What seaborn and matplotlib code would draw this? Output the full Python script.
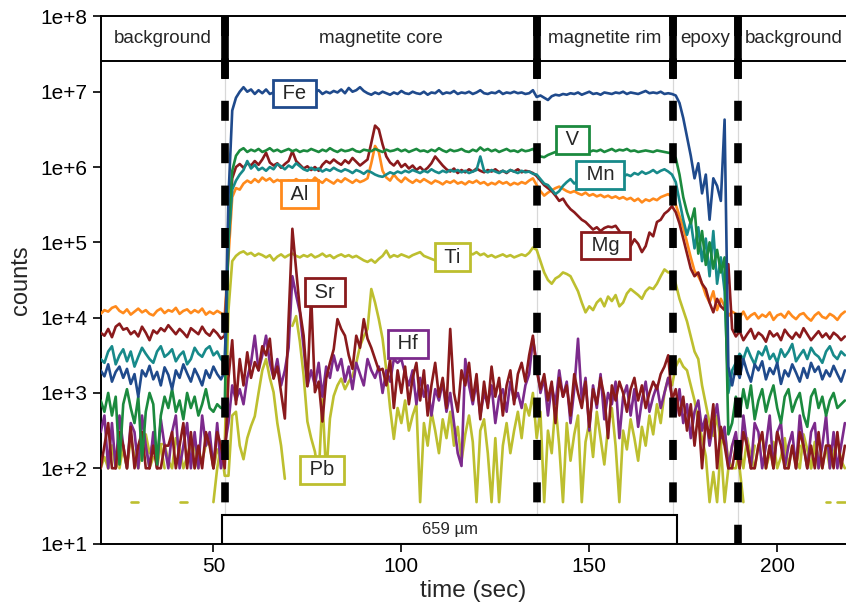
import numpy as np
import pandas as pd
import matplotlib
matplotlib.use("Agg")
import matplotlib.pyplot as plt
import matplotlib.patches as mpatches
from matplotlib.ticker import FixedLocator, NullLocator
import seaborn as sns

nan = np.nan

# ---------------- data (log10 of counts), 1 s sweeps from t = 20 s to t = 218 s ----------------
time_sec = np.arange(20, 219)

fe_log10 = [
    # background 1 (t 20-53)
    3.30, 3.22, 3.38, 3.15, 3.28, 3.35, 3.20, 3.32, 3.12, 3.25, 2.95, 3.30, 3.22, 3.36, 3.18, 3.28, 3.10,
    3.34, 3.24, 3.05, 3.30, 3.20, 3.38, 3.26, 3.15, 3.32, 3.22, 3.10, 3.30, 3.20, 3.35, 3.25, 3.18, 3.28,
    # magnetite core (t 54-135)
    5.60, 6.75, 6.92, 7.00, 7.06, 7.00, 7.03, 6.97, 7.02, 6.98,
    7.03, 6.97, 6.99, 6.96, 6.99, 6.97, 7.00, 6.98, 6.99, 6.97,
    6.98, 6.96, 7.00, 6.99, 7.02, 6.97, 7.00, 6.98, 7.01, 6.99,
    7.03, 6.98, 7.05, 7.00, 7.02, 7.06, 7.01, 6.98, 6.96, 6.99,
    6.97, 7.00, 6.98, 6.96, 6.99, 6.97, 7.01, 6.98, 6.97, 7.00,
    6.98, 6.97, 7.00, 6.96, 6.99, 6.98, 7.02, 6.97, 6.99, 6.98,
    7.01, 6.97, 6.99, 6.98, 7.00, 6.97, 6.99, 7.02, 6.98, 6.97,
    6.99, 6.98, 7.01, 6.97, 6.99, 6.98, 7.00, 6.98, 6.99, 6.97,
    6.98, 7.02,
    # magnetite rim (t 136-171)
    6.93, 6.95, 6.92, 6.89, 6.94, 6.96, 6.95, 6.97, 6.96, 6.98,
    6.97, 6.99, 6.96, 6.98, 7.00, 6.97, 6.98, 6.96, 6.99, 6.98,
    6.97, 6.99, 6.98, 7.00, 6.97, 6.99, 6.98, 6.97, 6.99, 7.01,
    6.98, 6.99, 6.98, 7.00, 6.97, 6.98,
    # epoxy (t 172-188)
    6.97, 6.95, 6.85, 6.65, 6.40, 6.15, 5.85, 6.05, 5.65, 5.90, 5.30, 5.85, 5.75, 5.55, 6.63, 3.35, 3.10,
    # background 2 (t 189-218)
    3.35, 3.20, 3.45, 3.28, 3.15, 3.38, 3.30, 3.42, 3.18, 3.33, 3.25, 3.40, 3.12, 3.30, 3.22,
    3.38, 3.27, 3.15, 3.33, 3.20, 3.40, 3.28, 3.35, 3.18, 3.30, 3.22, 3.36, 3.25, 3.15, 3.30,
]

v_log10 = [
    2.90, 2.75, 3.00, 2.70, 2.95, 2.05, 2.85, 3.05, 2.80, 2.60, 2.95, 2.10, 2.75, 3.00, 2.85, 2.05, 2.70,
    2.95, 2.80, 3.05, 2.75, 2.90, 2.65, 3.00, 2.80, 2.95, 2.70, 2.85, 3.05, 2.80, 2.75, 2.85, 2.80, 2.80,
    5.20, 5.95, 6.15, 6.22, 6.25, 6.20, 6.23, 6.21, 6.24, 6.20,
    6.22, 6.25, 6.21, 6.23, 6.20, 6.22, 6.24, 6.21, 6.23, 6.20,
    6.22, 6.21, 6.24, 6.22, 6.20, 6.23, 6.21, 6.25, 6.22, 6.20,
    6.23, 6.21, 6.22, 6.24, 6.21, 6.20, 6.23, 6.22, 6.21, 6.24,
    6.22, 6.20, 6.23, 6.21, 6.22, 6.24, 6.21, 6.23, 6.20, 6.22,
    6.24, 6.21, 6.22, 6.20, 6.23, 6.21, 6.25, 6.22, 6.20, 6.23,
    6.21, 6.22, 6.24, 6.21, 6.20, 6.23, 6.21, 6.26, 6.22, 6.24,
    6.21, 6.23, 6.20, 6.22, 6.24, 6.21, 6.22, 6.20, 6.23, 6.21,
    6.22, 6.24,
    6.18, 6.14, 6.13, 6.16, 6.18, 6.20, 6.19, 6.21, 6.20, 6.22,
    6.21, 6.20, 6.22, 6.21, 6.20, 6.22, 6.21, 6.23, 6.20, 6.22,
    6.24, 6.21, 6.23, 6.22, 6.24, 6.21, 6.22, 6.20, 6.21, 6.22,
    6.21, 6.20, 6.22, 6.21, 6.20, 6.19,
    6.18, 6.12, 5.90, 5.60, 5.40, 5.25, 5.45, 4.85, 5.15, 4.70, 5.00, 4.65, 4.90, 4.60, 4.80, 2.45, 2.60,
    2.95, 2.70, 3.05, 2.80, 3.10, 2.65, 2.90, 3.05, 2.75, 2.95, 3.10, 2.80, 2.60, 2.95, 3.05,
    2.75, 2.90, 3.00, 2.70, 2.55, 2.95, 3.05, 2.80, 2.95, 2.70, 2.90, 3.00, 2.80, 2.85, 2.90,
]

mn_log10 = [
    3.45, 3.40, 3.55, 3.62, 3.38, 3.50, 3.58, 3.42, 3.55, 3.35, 3.48, 3.60, 3.52, 3.45, 3.40, 3.55, 3.62,
    3.48, 3.52, 3.58, 3.42, 3.50, 3.55, 3.38, 3.45, 3.60, 3.52, 3.48, 3.58, 3.62, 3.50, 3.55, 3.45, 3.40,
    5.00, 5.70, 5.82, 5.90, 5.96, 6.08, 5.98, 6.03, 5.96, 5.99,
    5.95, 6.00, 5.97, 6.04, 6.01, 5.97, 6.02, 5.99, 6.05, 6.01,
    5.97, 5.95, 5.99, 5.96, 5.98, 5.94, 5.97, 5.95, 5.99, 5.96,
    5.94, 5.97, 5.95, 5.92, 5.96, 5.94, 5.91, 5.95, 5.93, 5.90,
    5.88, 5.87, 5.90, 5.93, 5.91, 5.94, 5.92, 5.95, 5.93, 5.96,
    5.94, 5.92, 5.95, 5.93, 5.97, 5.94, 5.92, 5.95, 5.93, 5.96,
    5.94, 5.96, 5.93, 5.95, 5.92, 5.94, 5.96, 6.14, 5.95, 5.93,
    5.96, 5.94, 5.92, 5.95, 5.93, 5.96, 5.94, 5.92, 5.95, 5.93,
    5.94, 5.91,
    5.90, 5.84, 5.78, 5.76, 5.70, 5.64, 5.68, 5.75, 5.80, 5.84,
    5.78, 5.82, 5.80, 5.84, 5.81, 5.86, 5.83, 5.85, 5.82, 5.86,
    5.84, 5.88, 5.85, 5.87, 5.90, 5.88, 5.92, 5.90, 5.94, 5.91,
    5.93, 5.96, 5.92, 5.95, 5.97, 5.94,
    5.90, 5.80, 5.55, 5.30, 5.10, 5.28, 4.92, 5.20, 4.75, 5.05, 4.55, 5.15, 4.45, 4.80, 4.35, 3.00, 3.30,
    3.40, 3.52, 3.45, 3.60, 3.48, 3.38, 3.55, 3.50, 3.62, 3.45, 3.52, 3.40, 3.58, 3.48, 3.55,
    3.65, 3.42, 3.50, 3.57, 3.45, 3.60, 3.52, 3.48, 3.40, 3.55, 3.62, 3.50, 3.45, 3.55, 3.50,
]

al_log10 = [
    4.05, 4.10, 4.08, 4.13, 4.15, 4.09, 4.06, 4.11, 4.04, 4.08, 4.12, 4.07, 4.10, 4.05, 4.03, 4.09, 4.12,
    4.06, 4.10, 4.08, 4.13, 4.05, 4.09, 4.11, 4.06, 4.10, 4.07, 4.12, 4.04, 4.08, 4.05, 4.09, 4.06, 4.03,
    4.80, 5.60, 5.72, 5.70, 5.78, 5.82, 5.79, 5.84, 5.80, 5.86,
    5.82, 5.85, 5.80, 5.83, 5.81, 5.78, 5.82, 5.80, 5.84, 5.81,
    5.79, 5.83, 5.80, 5.86, 5.82, 5.79, 5.84, 5.81, 5.78, 5.83,
    5.80, 5.85, 5.82, 5.79, 5.83, 5.80, 5.82, 5.85, 6.05, 6.28,
    6.20, 5.95, 5.86, 5.82, 5.90, 5.84, 5.80, 5.86, 5.82, 5.79,
    5.83, 5.80, 5.84, 5.81, 5.78, 5.82, 5.80, 5.77, 5.81, 5.79,
    5.82, 5.78, 5.80, 5.77, 5.81, 5.79, 5.82, 5.78, 5.80, 5.76,
    5.79, 5.77, 5.81, 5.78, 5.80, 5.76, 5.79, 5.77, 5.80, 5.78,
    5.82, 5.85,
    5.76, 5.68, 5.62, 5.66, 5.69, 5.72, 5.74, 5.71, 5.68, 5.66,
    5.68, 5.65, 5.63, 5.66, 5.62, 5.64, 5.61, 5.63, 5.60, 5.62,
    5.59, 5.61, 5.58, 5.60, 5.57, 5.59, 5.55, 5.58, 5.53, 5.57,
    5.55, 5.58, 5.56, 5.60, 5.62, 5.64,
    5.60, 5.50, 5.35, 5.20, 5.00, 4.80, 4.62, 4.55, 4.45, 4.30, 4.20, 4.35, 4.10, 4.25, 4.15, 4.02, 4.08,
    4.05, 4.00, 4.08, 3.98, 4.03, 4.06, 3.99, 4.04, 4.01, 4.07, 3.97, 4.03, 4.05, 4.00, 4.08,
    4.02, 3.98, 4.04, 4.06, 4.00, 3.96, 4.03, 4.07, 4.01, 3.99, 4.05, 4.02, 3.97, 4.04, 4.08,
]

mg_log10 = [
    3.80, 3.76, 3.85, 3.74, 3.88, 3.92, 3.84, 3.86, 3.78, 3.82, 3.75, 3.88, 3.80, 3.70, 3.83, 3.79, 3.86,
    3.82, 3.90, 3.84, 3.78, 3.85, 3.80, 3.74, 3.86, 3.82, 3.78, 3.88, 3.80, 3.76, 3.84, 3.79, 3.72, 3.76,
    5.00, 5.85, 6.00, 6.04, 5.99, 6.05, 6.02, 6.08, 6.03, 6.10,
    6.19, 6.06, 6.02, 6.05, 5.99, 6.04, 6.08, 6.21, 6.08, 6.03,
    5.98, 6.01, 5.96, 6.00, 5.95, 6.03, 6.08, 6.05, 6.10, 6.06,
    6.03, 6.09, 6.05, 6.12, 6.07, 6.02, 6.06, 6.10, 6.32, 6.55,
    6.50, 6.30, 6.14, 6.06, 6.02, 6.08, 6.00, 6.04, 5.98, 6.02,
    5.96, 6.00, 5.95, 5.99, 6.05, 6.14, 6.08, 6.02, 5.97, 5.94,
    5.98, 5.92, 5.96, 5.93, 5.97, 5.94, 5.98, 5.95, 5.93, 5.96,
    5.94, 5.97, 5.93, 5.95, 5.92, 5.96, 5.94, 5.97, 5.93, 5.95,
    5.94, 5.92,
    5.88, 5.82, 5.76, 5.72, 5.68, 5.62, 5.55, 5.58, 5.50, 5.44,
    5.40, 5.35, 5.30, 5.27, 5.22, 5.17, 5.20, 5.15, 5.19, 5.21,
    5.20, 5.22, 5.15, 5.05, 5.00, 4.95, 5.04, 4.98, 4.87, 4.95,
    5.13, 5.08, 5.27, 5.30, 5.38, 5.42,
    5.48, 5.40, 5.25, 5.05, 4.85, 4.65, 4.55, 4.60, 4.45, 4.38, 4.20, 4.07, 4.25, 4.15, 4.10, 4.71, 3.85,
    3.75, 3.82, 3.70, 3.78, 3.85, 3.72, 3.80, 3.76, 3.68, 3.82, 3.75, 3.79, 3.70, 3.84, 3.77,
    3.72, 3.80, 3.74, 3.86, 3.78, 3.70, 3.76, 3.82, 3.74, 3.79, 3.72, 3.80, 3.76, 3.70, 3.75,
]

ti_log10 = [
    2.00, 2.15, 2.00, 2.30, 2.00, 2.10, 2.25, 2.00, 2.40, 2.15, 2.00, 2.30, 2.45, 2.20, 2.35, 2.00, 2.32,
    2.32, 2.10, 2.00, 2.40, 2.25, 2.00, 2.15, 2.35, 2.00, 2.20, 2.10, 2.32, 2.32, 2.00, 2.25, 2.15, 2.30,
    4.10, 4.75, 4.82, 4.86, 4.88, 4.84, 4.86, 4.82, 4.85, 4.83,
    4.80, 4.83, 4.76, 4.81, 4.84, 4.80, 4.83, 4.85, 4.82, 4.80,
    4.83, 4.81, 4.84, 4.80, 4.82, 4.85, 4.81, 4.83, 4.79, 4.82,
    4.84, 4.81, 4.83, 4.80, 4.82, 4.79, 4.76, 4.74, 4.77, 4.73,
    4.78, 4.82, 4.89, 4.80, 4.83, 4.81, 4.84, 4.82, 4.80, 4.83,
    4.85, 4.87, 4.82, 4.80, 4.78, 4.76, 4.78, 4.77, 4.78, 4.79,
    4.81, 4.79, 4.84, 4.82, 4.86, 4.84, 4.87, 4.83, 4.85, 4.81,
    4.83, 4.80, 4.82, 4.84, 4.81, 4.83, 4.80, 4.82, 4.84, 4.82,
    4.86, 4.93,
    4.90, 4.75, 4.60, 4.50, 4.45, 4.52, 4.55, 4.60, 4.58, 4.55,
    4.45, 4.35, 4.20, 4.07, 4.15, 4.10, 4.20, 4.25, 4.15, 4.28,
    4.22, 4.30, 4.15, 4.20, 4.32, 4.38, 4.34, 4.30, 4.25, 4.35,
    4.40, 4.38, 4.45, 4.55, 4.64, 4.60,
    4.60, 4.45, 4.25, 4.10, 3.95, 3.75, 3.55, 3.45, 3.10, 2.85, 2.60, 2.43, 2.70, 2.30, 2.50, 2.10, 2.00,
    2.00, 2.25, 2.00, 2.40, 2.15, 2.00, 2.30, 2.45, 2.00, 2.20, 2.35, 2.00, 2.15, 2.40, 2.00,
    2.30, 2.10, 2.00, 2.45, 2.25, 2.00, 2.35, 2.15, 2.00, 2.30, 2.00, 2.20, 2.40, 2.10, 2.00,
]

sr_log10 = [
    2.00, 2.30, 2.60, 2.00, 2.00, 2.48, 2.30, 2.00, 2.55, 2.00, 2.30, 2.48, 2.00, 2.00, 2.30, 2.00, 2.00,
    2.30, 2.30, 2.48, 2.00, 2.30, 2.60, 2.00, 2.48, 2.00, 2.30, 2.00, 2.48, 2.30, 2.00, 2.48, 2.30, 2.00,
    3.20, 3.70, 2.85, 3.45, 3.10, 3.54, 3.20, 3.41, 3.30, 3.62,
    3.50, 3.72, 3.19, 3.35, 3.01, 2.66, 3.98, 5.18, 4.64, 4.10,
    3.76, 3.09, 4.30, 3.01, 3.15, 2.62, 3.19, 3.40, 3.58, 3.98,
    3.85, 3.76, 3.50, 3.32, 3.76, 3.60, 3.98, 3.72, 3.60, 3.45,
    3.30, 3.32, 3.10, 3.45, 2.80, 3.30, 3.00, 3.35, 2.85, 3.20,
    3.40, 2.90, 3.30, 2.70, 3.10, 3.40, 2.95, 3.20, 2.80, 3.85,
    3.00, 2.75, 3.30, 3.10, 3.40, 2.90, 3.25, 2.65, 3.15, 2.80,
    3.35, 2.95, 3.20, 2.70, 3.10, 3.30, 2.85, 3.25, 3.40, 3.15,
    3.50, 3.76,
    3.30, 3.05, 3.25, 2.90, 3.15, 2.60, 3.20, 2.95, 3.10, 2.70,
    3.25, 3.00, 2.80, 3.15, 2.55, 3.05, 2.85, 3.20, 2.95, 2.40,
    3.10, 2.90, 3.15, 3.00, 2.75, 3.05, 3.20, 2.90, 3.10, 2.80,
    3.00, 3.15, 3.05, 3.25, 3.35, 3.50,
    2.90, 3.05, 2.70, 2.95, 2.50, 2.85, 2.30, 2.75, 2.00, 2.65, 2.40, 2.85, 2.00, 2.55, 2.30, 2.00, 2.00,
    2.30, 2.00, 2.48, 2.30, 2.00, 2.00, 2.30, 2.48, 2.00, 2.30, 2.00, 2.48, 2.30, 2.00, 2.00,
    2.30, 2.00, 2.48, 2.30, 2.00, 2.30, 2.00, 2.48, 2.00, 2.30, 2.30, 2.00, 2.48, 2.00, 2.30,
]

hf_log10 = [
    2.48, 2.70, 2.00, 2.60, 2.00, 2.70, 2.30, 2.00, 2.60, 2.48, 2.00, 2.70, 2.30, 2.00, 2.48, 2.00, 2.65,
    2.30, 2.00, 2.48, 2.70, 2.00, 2.30, 2.60, 2.00, 2.48, 2.00, 2.70, 2.30, 2.48, 2.00, 2.60, 2.00, 2.30,
    2.60, 3.10, 2.90, 3.05, 2.85, 3.20, 3.40, 3.76, 3.30, 3.50,
    3.76, 3.40, 3.20, 3.45, 3.10, 3.30, 3.60, 4.55, 4.30, 4.07,
    3.60, 3.09, 3.30, 3.10, 3.40, 2.95, 3.35, 3.20, 3.50, 3.30,
    3.45, 3.15, 3.35, 3.05, 3.40, 3.25, 3.10, 3.45, 3.30, 3.20,
    3.35, 3.00, 3.30, 3.15, 3.45, 3.40, 3.45, 3.25, 3.10, 3.30,
    2.85, 3.20, 2.95, 3.10, 2.70, 3.05, 2.90, 3.15, 2.75, 3.00,
    2.60, 2.20, 2.03, 3.45, 3.10, 2.85, 3.15, 2.70, 3.00, 2.85,
    3.10, 2.60, 2.95, 3.05, 2.75, 3.15, 2.90, 3.00, 2.80, 3.10,
    3.25, 3.72,
    3.40, 3.00, 3.20, 2.70, 3.10, 2.85, 3.30, 2.95, 3.15, 2.60,
    3.05, 3.72, 2.90, 3.20, 2.50, 3.10, 2.80, 3.25, 2.65, 3.00,
    2.85, 3.15, 2.40, 2.95, 3.10, 2.70, 3.05, 2.55, 2.90, 3.15,
    2.75, 2.95, 3.10, 2.80, 3.00, 3.20,
    2.95, 2.70, 3.05, 2.60, 2.85, 2.40, 2.75, 2.90, 2.50, 2.70, 2.30, 2.60, 2.85, 2.40, 2.55, 2.00, 2.30,
    2.48, 2.00, 2.70, 2.30, 2.00, 2.60, 2.48, 2.00, 2.30, 2.70, 2.00, 2.48, 2.60, 2.00, 2.30,
    2.48, 2.00, 2.70, 2.30, 2.00, 2.48, 2.60, 2.00, 2.30, 2.70, 2.00, 2.48, 2.00, 2.30, 2.60,
]

pb_log10 = [
    nan, nan, 2.00, 2.30, nan, 2.00, 2.30, nan, 1.55, 1.55, 1.55, nan, 2.30, 2.00, 2.15, nan, 2.30,
    2.00, nan, nan, nan, 1.55, 1.55, 1.55, nan, 2.30, 2.00, nan, 2.00, nan, 1.55, 2.00, 2.30, 1.90,
    1.90, 2.70, 2.75, 2.30, 2.12, 2.40, 2.56, 2.69, 3.00, 3.30,
    3.45, 3.20, 3.01, 2.60, 2.30, 1.86, nan, 3.89, 4.02, 3.68,
    3.23, 2.62, 2.40, 2.22, 1.90, 2.92, 1.90, 2.66, 2.96, 3.10,
    3.19, 3.05, 3.15, 3.23, 3.40, 3.62, 3.75, 3.85, 4.38, 4.20,
    3.98, 3.72, 3.30, 2.80, 2.39, 2.80, 2.60, 2.90, 2.50, 2.70,
    2.85, 1.55, 2.60, 2.30, 2.75, 2.50, 2.20, 2.65, 2.40, 2.75,
    2.30, 2.55, 2.10, 2.45, 2.70, 2.35, 1.55, 2.50, 2.65, 2.20,
    1.55, 2.40, 1.55, 2.30, 2.60, 2.20, 2.50, 2.75, 2.40, 2.85,
    2.70, 3.00,
    2.40, 2.75, 1.55, 2.50, 2.20, 2.85, 2.30, 1.55, 2.60, 2.10,
    2.45, 2.70, 1.55, 2.35, 2.60, 2.15, 2.75, 2.40, 2.05, 2.55,
    2.80, 2.30, 1.55, 2.50, 2.25, 2.65, 2.40, 2.10, 2.55, 2.30,
    2.70, 2.45, 2.85, 2.60, 3.00, 3.20,
    3.10, 3.35, 3.45, 3.35, 3.30, 3.10, 2.90, 2.62, 2.40, 2.16, 1.55, 1.95, 1.55, 2.30, 1.55, 2.00, 2.30,
    2.40, 2.00, 1.55, nan, 2.00, 2.30, nan, nan, 2.00, 2.30, 2.00, nan, nan, 2.30, 2.00,
    nan, 2.00, 2.30, nan, nan, 2.00, 2.30, 2.00, nan, 1.55, 1.55, nan, 1.55, 1.55, 1.55,
]

elements = ["Ti", "Pb", "Hf", "Sr", "Al", "Mg", "Mn", "V", "Fe"]
series_log10 = {"Fe": fe_log10, "V": v_log10, "Mn": mn_log10, "Al": al_log10, "Mg": mg_log10,
                "Ti": ti_log10, "Sr": sr_log10, "Hf": hf_log10, "Pb": pb_log10}
colors = {"Fe": "#1f4a8c", "V": "#1b8a3e", "Mn": "#178a8a", "Al": "#ff8a1c", "Mg": "#8a1a1c",
          "Ti": "#bdbf2f", "Sr": "#8a1a1c", "Hf": "#7c2a8c", "Pb": "#bdbf2f"}

# label positions (time, log10 counts)
label_t = {"Fe": 71.6, "V": 145.5, "Mn": 152.9, "Al": 72.9, "Mg": 154.3,
           "Ti": 113.6, "Sr": 79.6, "Hf": 101.7, "Pb": 78.9}
label_y = {"Fe": 6.977, "V": 6.36, "Mn": 5.895, "Al": 5.64, "Mg": 4.958,
           "Ti": 4.80, "Sr": 4.34, "Hf": 3.65, "Pb": 1.977}

# segments of the ablation profile
boundaries = [53.2, 136.1, 172.3, 189.5]
segment_names = ["background", "magnetite core", "magnetite rim", "epoxy", "background"]
segment_centers = [36.6, 94.65, 154.2, 180.9, 204.5]
scale_label = "659 µm"
scale_start, scale_end = 52.3, 173.4

# ---------------- build long table ----------------
frames = []
for name in elements:
    arr = np.asarray(series_log10[name], dtype=float)
    assert len(arr) == len(time_sec), (name, len(arr))
    valid = ~np.isnan(arr)
    run_id = np.cumsum(~valid)
    frames.append(pd.DataFrame({
        "time": time_sec[valid],
        "counts": 10.0 ** arr[valid],
        "element": name,
        "run": [f"{name}-{r}" for r in run_id[valid]],
    }))
df = pd.DataFrame(pd.concat(frames, ignore_index=True))

# ---------------- figure ----------------
sns.set_style("ticks")
plt.rcParams["font.family"] = ["Liberation Sans", "DejaVu Sans"]

fig = plt.figure(figsize=(8.46, 6.08), dpi=100)
ax = fig.add_axes([0.119, 0.106, 0.881, 0.867])
ax.set_yscale("log")

sns.lineplot(data=df, x="time", y="counts", hue="element", hue_order=elements,
             units="run", estimator=None, palette=colors, legend=False,
             linewidth=1.9, ax=ax, zorder=3)

ax.set_xlim(20, 218.3)
ax.set_ylim(10, 1e8)

header_low = 10 ** 7.41
bar_low = 10 ** 7.17
box_top = 23.8

# thin grey guides, thick dashed separators
for i, b in enumerate(boundaries):
    low = 10 if i == len(boundaries) - 1 else box_top
    ax.plot([b, b], [1e8, low], color="#d8d8d8", lw=0.9, zorder=1)
    ax.plot([b, b], [1e8, bar_low], color="black", lw=5.5, solid_capstyle="butt", zorder=6)
    ax.plot([b, b], [1e8, low], color="black", lw=5.5, dashes=(2.62, 2.93),
            dash_capstyle="butt", zorder=6)

# header band
ax.axhline(header_low, color="black", lw=1.4, zorder=6)
for name, cx in zip(segment_names, segment_centers):
    ax.text(cx, 10 ** 7.705, name, ha="center", va="center", fontsize=13.5, zorder=7)

# scale box
rect = mpatches.Rectangle((scale_start, 10), scale_end - scale_start, box_top - 10,
                          facecolor="white", edgecolor="black", lw=1.5, zorder=7)
ax.add_patch(rect)
ax.text((scale_start + scale_end) / 2, np.sqrt(10 * box_top), scale_label,
        ha="center", va="center", fontsize=12, zorder=8)

# element labels
for name in series_log10:
    ax.text(label_t[name], 10 ** label_y[name], f" {name} ", ha="center", va="center",
            fontsize=14.5, zorder=8,
            bbox=dict(boxstyle="square,pad=0.22", facecolor="white",
                      edgecolor=colors[name], linewidth=2.0))

# axes styling
ax.yaxis.set_major_locator(FixedLocator([10 ** k for k in range(1, 9)]))
ax.set_yticklabels([f"1e+{k}" for k in range(1, 9)])
ax.yaxis.set_minor_locator(NullLocator())
ax.set_xticks([50, 100, 150, 200])
ax.tick_params(axis="both", labelsize=15, length=6, width=1.2, direction="out", colors="black")
for side in ["left", "bottom", "top"]:
    ax.spines[side].set_linewidth(1.4)
    ax.spines[side].set_color("black")
ax.spines["right"].set_visible(False)
ax.set_xlabel("time (sec)", fontsize=17.5, labelpad=3)
ax.set_ylabel("counts", fontsize=17, labelpad=6)

fig.savefig("out.png", dpi=100)
